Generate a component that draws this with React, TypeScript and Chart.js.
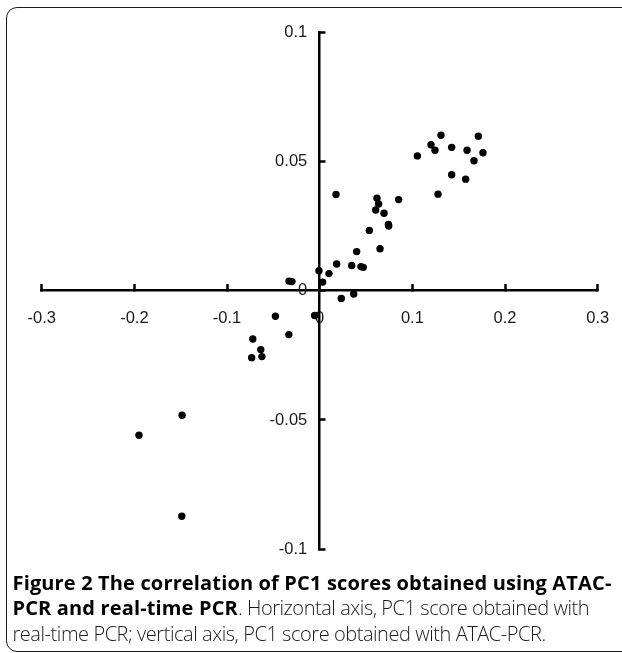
import React, { useEffect, useRef } from "react";
import { Chart, registerables } from "chart.js";

Chart.register(...registerables);

// PC1 score with real-time PCR (horizontal)
const realTimePcr = [
  0.1309, 0.1201, 0.1244, 0.1054, 0.1424, 0.159, 0.1712, 0.1762, 0.1665, 0.1424, 0.1575, 0.1277,
  0.0176, 0.0618, 0.0636, 0.0604, 0.0694, 0.0852, 0.0741, 0.0745, 0.0536, 0.0651, 0.0399, 0.0183,
  0.0345, 0.0445, 0.047, -0.0008, 0.01, 0.0032, -0.0331, -0.0299, 0.0233, 0.0367,
  -0.0478, -0.0055, -0.0333, -0.0722, -0.0636, -0.0734, -0.0624, -0.1485, -0.195, -0.1488,
];
// PC1 score with ATAC-PCR (vertical)
const atacPcr = [
  0.0601, 0.0564, 0.0543, 0.0521, 0.0554, 0.0543, 0.0597, 0.0533, 0.0502, 0.0448, 0.0431, 0.0373,
  0.0372, 0.0357, 0.0335, 0.0312, 0.0299, 0.0352, 0.0256, 0.025, 0.0233, 0.0162, 0.0151, 0.0103,
  0.0097, 0.0093, 0.009, 0.0077, 0.0066, 0.0033, 0.0037, 0.0035, -0.003, -0.0013,
  -0.0099, -0.0096, -0.017, -0.0187, -0.0228, -0.0259, -0.0255, -0.0482, -0.0559, -0.0872,
];

const xTickValues = [-0.3, -0.2, -0.1, 0, 0.1, 0.2, 0.3];
const yTickValues = [-0.1, -0.05, 0, 0.05, 0.1];

const captionLine1 = "Figure 2 The correlation of PC1 scores obtained using ATAC-";
const captionLine2Bold = "PCR and real-time PCR";
const captionLine2Rest = ". Horizontal axis, PC1 score obtained with";
const captionLine3 = "real-time PCR; vertical axis, PC1 score obtained with ATAC-PCR.";

export default function App() {
  const canvasRef = useRef<HTMLCanvasElement | null>(null);

  useEffect(() => {
    if (!canvasRef.current) return;
    const points = realTimePcr.map((x, i) => ({ x, y: atacPcr[i] }));
    const axisColor = "#000";
    const tickFont = { family: "'Liberation Sans', Arial, sans-serif", size: 16.5 };
    const chart = new Chart(canvasRef.current, {
      type: "scatter",
      data: {
        datasets: [
          {
            data: points,
            backgroundColor: "#000",
            borderColor: "#000",
            borderWidth: 0,
            pointRadius: 3.7,
            pointHoverRadius: 3.7,
          },
        ],
      },
      options: {
        responsive: false,
        animation: false,
        events: [],
        layout: { padding: { left: 41.7, right: 62.3, top: 32, bottom: 30.7 } },
        plugins: { legend: { display: false }, tooltip: { enabled: false } },
        scales: {
          x: {
            type: "linear",
            position: { y: 0 },
            min: -0.3,
            max: 0.3,
            afterBuildTicks: (s: any) => {
              s.ticks = xTickValues.map((v) => ({ value: v }));
            },
            grid: {
              display: true,
              drawOnChartArea: false,
              drawTicks: true,
              tickLength: -7.5,
              tickWidth: 2.5,
              tickColor: axisColor,
            },
            border: { display: true, width: 2.5, color: axisColor },
            ticks: {
              autoSkip: false,
              maxRotation: 0,
              padding: 25.5,
              color: "#1a1a1a",
              font: tickFont,
              callback: (v: any) => String(Number(v)),
            },
          },
          y: {
            type: "linear",
            position: { x: 0 },
            min: -0.1,
            max: 0.1,
            afterBuildTicks: (s: any) => {
              s.ticks = yTickValues.map((v) => ({ value: v }));
            },
            grid: {
              display: true,
              drawOnChartArea: false,
              drawTicks: true,
              tickLength: -7.5,
              tickWidth: 2.5,
              tickColor: axisColor,
            },
            border: { display: true, width: 2.5, color: axisColor },
            ticks: {
              autoSkip: false,
              color: "#1a1a1a",
              font: tickFont,
              callback: (v: any) => String(Number(v)) + "  \u2009",
            },
          },
        },
      },
    });
    return () => chart.destroy();
  }, []);

  return (
    <div
      style={{
        position: "fixed",
        left: 0,
        top: 0,
        width: 622,
        height: 653,
        overflow: "hidden",
        background: "#fff",
      }}
    >
      <canvas
        ref={canvasRef}
        width={660}
        height={580}
        style={{ position: "absolute", left: 0, top: 0, width: 660, height: 580 }}
      />
      <div
        style={{
          position: "absolute",
          left: 6,
          top: 7,
          width: 660,
          height: 645,
          border: "1px solid #1a1a1a",
          borderRadius: 11,
          boxSizing: "border-box",
          pointerEvents: "none",
        }}
      />
      <div
        style={{
          position: "absolute",
          left: 12.5,
          top: 569.5,
          fontFamily: "'Open Sans', sans-serif",
          fontSize: 20,
          lineHeight: "25.5px",
          color: "#1a1a1a",
          whiteSpace: "nowrap",
        }}
      >
        <div style={{ fontWeight: 700, color: "#000", letterSpacing: "0.15px" }}>{captionLine1}</div>
        <div>
          <span style={{ fontWeight: 700, color: "#000", letterSpacing: "0.15px" }}>{captionLine2Bold}</span>
          <span style={{ fontWeight: 300, letterSpacing: "-0.45px" }}>{captionLine2Rest}</span>
        </div>
        <div style={{ fontWeight: 300, letterSpacing: "-0.45px" }}>{captionLine3}</div>
      </div>
    </div>
  );
}
